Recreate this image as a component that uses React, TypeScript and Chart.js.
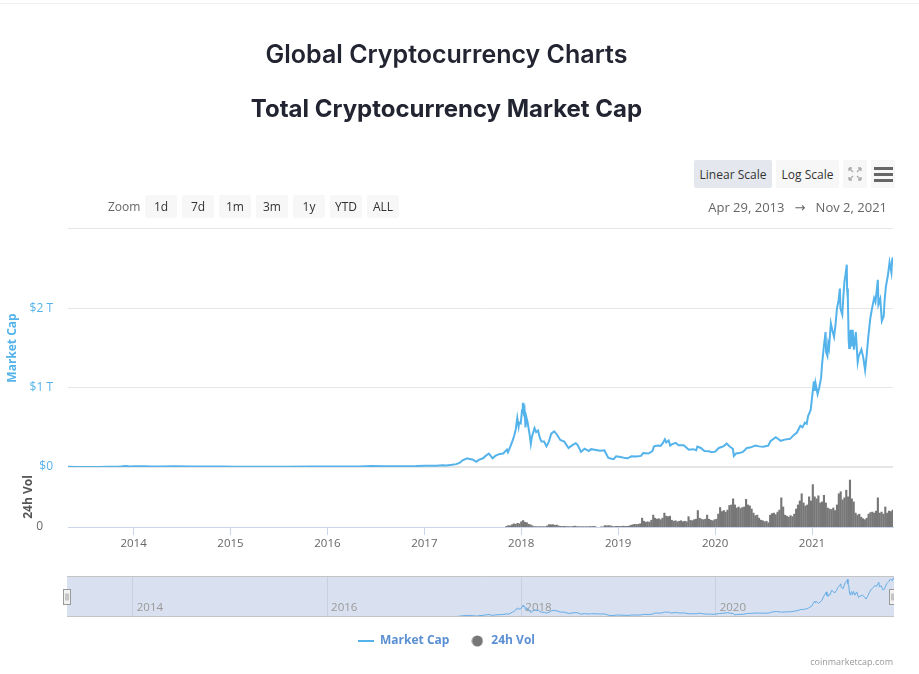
import React, { useEffect, useRef } from 'react';
import { Chart, registerables } from 'chart.js';

Chart.register(...registerables);

// ---------------- DATA ----------------
const rangeStart = '2013-04-29';
const rangeEnd = '2021-11-02';

const yearTicks = [2014, 2015, 2016, 2017, 2018, 2019, 2020, 2021];
const navYearTicks = [2014, 2016, 2018, 2020];
const capTicks = [0, 1000, 2000, 3000]; // $B
const zoomButtons = ['1d', '7d', '1m', '3m', '1y', 'YTD', 'ALL'];

// Total market cap, in $ billions
const capDates = [
  '2013-04-29', '2013-06-01', '2013-07-05', '2013-08-15', '2013-10-01', '2013-11-05', '2013-11-20', '2013-12-04', '2013-12-18',
  '2014-01-05', '2014-02-10', '2014-03-10', '2014-04-15', '2014-06-05', '2014-08-01', '2014-10-01', '2014-12-01',
  '2015-01-15', '2015-03-01', '2015-06-01', '2015-08-01', '2015-11-04',
  '2016-01-01', '2016-03-01', '2016-05-01', '2016-06-17', '2016-08-01', '2016-10-01', '2016-12-01',
  '2017-01-04', '2017-02-15', '2017-03-10', '2017-03-25', '2017-04-15', '2017-05-01', '2017-05-15', '2017-05-25',
  '2017-06-12', '2017-06-20', '2017-07-01', '2017-07-16', '2017-07-25', '2017-08-10', '2017-08-20', '2017-09-01',
  '2017-09-15', '2017-09-25', '2017-10-12', '2017-10-25', '2017-11-08', '2017-11-12', '2017-11-20', '2017-11-29',
  '2017-12-05', '2017-12-11', '2017-12-17', '2017-12-22', '2017-12-24', '2017-12-30',
  '2018-01-04', '2018-01-07', '2018-01-10', '2018-01-13', '2018-01-17', '2018-01-20', '2018-01-25', '2018-02-01',
  '2018-02-06', '2018-02-10', '2018-02-20', '2018-02-26', '2018-03-05', '2018-03-12', '2018-03-18', '2018-03-28',
  '2018-04-06', '2018-04-15', '2018-04-24', '2018-05-05', '2018-05-15', '2018-05-28', '2018-06-12', '2018-06-28',
  '2018-07-10', '2018-07-25', '2018-08-01', '2018-08-14', '2018-08-27', '2018-09-05', '2018-09-12', '2018-09-21',
  '2018-10-10', '2018-10-25', '2018-11-10', '2018-11-20', '2018-11-25', '2018-12-07', '2018-12-15', '2018-12-24',
  '2019-01-10', '2019-01-28', '2019-02-06', '2019-02-20', '2019-03-10', '2019-03-28', '2019-04-05', '2019-04-25',
  '2019-05-10', '2019-05-16', '2019-05-30', '2019-06-10', '2019-06-18', '2019-06-26', '2019-07-01', '2019-07-10',
  '2019-07-16', '2019-07-22', '2019-08-06', '2019-08-16', '2019-09-05', '2019-09-24', '2019-10-10', '2019-10-22',
  '2019-10-26', '2019-11-08', '2019-11-22', '2019-12-10', '2019-12-18',
  '2020-01-01', '2020-01-15', '2020-02-01', '2020-02-14', '2020-02-26', '2020-03-08', '2020-03-12', '2020-03-20',
  '2020-04-01', '2020-04-15', '2020-04-30', '2020-05-12', '2020-06-01', '2020-06-15', '2020-07-01', '2020-07-20',
  '2020-07-28', '2020-08-17', '2020-09-05', '2020-09-20', '2020-10-10', '2020-10-25', '2020-11-05', '2020-11-18',
  '2020-11-26', '2020-12-05', '2020-12-12', '2020-12-17', '2020-12-27',
  '2021-01-03', '2021-01-08', '2021-01-11', '2021-01-14', '2021-01-22', '2021-01-28', '2021-02-04', '2021-02-08',
  '2021-02-14', '2021-02-21', '2021-02-23', '2021-02-28', '2021-03-03', '2021-03-06', '2021-03-13', '2021-03-18',
  '2021-03-25', '2021-03-31', '2021-04-05', '2021-04-11', '2021-04-16', '2021-04-18', '2021-04-25', '2021-04-29',
  '2021-05-03', '2021-05-07', '2021-05-12', '2021-05-13', '2021-05-16', '2021-05-19', '2021-05-21', '2021-05-24',
  '2021-05-27', '2021-05-30', '2021-06-03', '2021-06-08', '2021-06-15', '2021-06-22', '2021-06-26', '2021-07-06',
  '2021-07-13', '2021-07-20', '2021-07-25', '2021-08-01', '2021-08-08', '2021-08-14', '2021-08-23', '2021-08-28',
  '2021-09-06', '2021-09-08', '2021-09-15', '2021-09-21', '2021-09-28', '2021-10-01', '2021-10-06', '2021-10-14',
  '2021-10-20', '2021-10-27', '2021-10-30', '2021-11-02',
];
const capValues = [
  1.6, 1.4, 0.9, 1.4, 1.8, 3.5, 8, 14, 7,
  10, 9, 7, 6, 8, 7.5, 5, 5,
  3, 4, 3.8, 4.5, 6.5,
  7, 7, 7.5, 12, 10.5, 10.5, 12,
  17, 17, 21, 18, 27, 36, 55, 85,
  110, 100, 95, 65, 90, 110, 140, 170,
  110, 140, 165, 170, 220, 185, 250, 330,
  390, 470, 620, 510, 560, 550,
  720, 810, 700, 740, 500, 630, 560, 420,
  290, 380, 490, 440, 460, 370, 320, 320,
  260, 320, 420, 450, 410, 340, 320, 240,
  270, 300, 280, 190, 230, 215, 200, 225,
  215, 205, 210, 145, 115, 105, 100, 135,
  125, 112, 110, 135, 132, 140, 175, 170,
  200, 260, 270, 265, 300, 350, 310, 335,
  270, 285, 305, 275, 275, 218, 225, 212,
  258, 240, 200, 198, 185,
  193, 240, 260, 295, 255, 230, 140, 170,
  175, 190, 240, 245, 270, 260, 255, 270,
  325, 375, 330, 345, 355, 405, 435, 520,
  500, 560, 545, 640, 720,
  930, 1080, 960, 1060, 920, 1000, 1120, 1300,
  1500, 1700, 1450, 1400, 1550, 1500, 1810, 1730,
  1640, 1810, 2000, 2100, 2250, 2000, 1920, 2150,
  2330, 2420, 2550, 2250, 2120, 1600, 1500, 1650,
  1730, 1520, 1730, 1480, 1700, 1320, 1400, 1480,
  1380, 1220, 1380, 1640, 1860, 1980, 2130, 2080,
  2360, 2050, 2120, 1840, 1900, 2080, 2270, 2420,
  2580, 2450, 2620, 2640,
];

// 24h volume, weekly, in $ billions, starting at volStart
const volStart = '2017-11-06';
const volStepDays = 7;
const volValues = [
  10, 17, 15, 25, 35, 30, 40, 35, 55, 67, 50, 45, 30,
  25, 15, 7, 7, 6, 7, 6, 7, 6, 15, 27, 25, 27,
  20, 23, 15, 10, 8, 10, 8, 7, 7, 6, 10, 12, 7,
  7, 6, 7, 6, 7, 6, 8, 7, 10, 6, 0, 0, 5,
  5, 17, 15, 17, 15, 10, 6, 10, 10, 8, 10, 12, 10,
  10, 12, 20, 25, 30, 27, 30, 35, 90, 60, 50, 55, 50,
  70, 120, 90, 80, 85, 75, 90, 140, 110, 105, 110, 70, 60,
  65, 55, 60, 65, 55, 60, 55, 105, 70, 65, 75, 80, 165,
  90, 80, 75, 80, 120, 80, 70, 65, 75, 80, 130, 195, 155,
  165, 150, 170, 215, 220, 280, 220, 190, 200, 185, 195, 200, 275,
  220, 210, 180, 140, 115, 120, 90, 70, 65, 55, 60, 45, 120,
  135, 140, 125, 150, 170, 290, 200, 120, 110, 100, 115, 105, 130,
  180, 220, 260, 330, 240, 210, 220, 300, 260, 420, 300, 280, 310,
  240, 250, 315, 240, 190, 180, 175, 190, 165, 220, 330, 350, 270,
  290, 365, 300, 465, 280, 250, 140, 120, 130, 100, 85, 75, 90,
  130, 145, 150, 140, 160, 290, 140, 150, 130, 200, 140, 160, 155, 170,
];

// ---------------- HELPERS ----------------
const DAY_MS = 86400000;
function msToYear(t: number): number {
  const y = new Date(t).getUTCFullYear();
  const s = Date.UTC(y, 0, 1);
  const e = Date.UTC(y + 1, 0, 1);
  return y + (t - s) / (e - s);
}
function dateToYear(d: string): number {
  return msToYear(Date.parse(d + 'T00:00:00Z'));
}

const FONT = "'Open Sans', 'DejaVu Sans', sans-serif";
const TITLE_FONT = "Inter, 'Open Sans', sans-serif";
const CAP_COLOR = '#54b3ea';
const VOL_COLOR = '#777777';
const LEGEND_COLOR = '#5b8fd3';

const btn: React.CSSProperties = {
  position: 'absolute',
  height: 28,
  top: 160,
  background: '#f7f7f7',
  borderRadius: 2,
  fontSize: 12,
  color: '#333',
  display: 'flex',
  alignItems: 'center',
  justifyContent: 'center',
  boxSizing: 'border-box',
};

export default function App() {
  const mainRef = useRef<HTMLCanvasElement>(null);
  const navRef = useRef<HTMLCanvasElement>(null);

  useEffect(() => {
    const capPoints = capDates.map((d, i) => ({ x: dateToYear(d), y: capValues[i] }));
    const volStartMs = Date.parse(volStart + 'T00:00:00Z');
    const volPoints = volValues.map((v, k) => ({
      x: msToYear(volStartMs + k * volStepDays * DAY_MS),
      y: v,
    }));
    const xMin = dateToYear(rangeStart);
    const xMax = dateToYear(rangeEnd);

    // legend symbols
    const lineIcon = document.createElement('canvas');
    lineIcon.width = 16;
    lineIcon.height = 2;
    const lctx = lineIcon.getContext('2d')!;
    lctx.fillStyle = CAP_COLOR;
    lctx.fillRect(0, 0, 16, 2);
    const dotIcon = document.createElement('canvas');
    dotIcon.width = 12;
    dotIcon.height = 12;
    const dctx = dotIcon.getContext('2d')!;
    dctx.fillStyle = VOL_COLOR;
    dctx.beginPath();
    dctx.arc(6, 6, 5.5, 0, Math.PI * 2);
    dctx.fill();

    const main = new Chart(mainRef.current!, {
      type: 'line',
      data: {
        datasets: [
          {
            type: 'line',
            label: 'Market Cap',
            data: capPoints,
            yAxisID: 'yCap',
            xAxisID: 'x',
            borderColor: CAP_COLOR,
            borderWidth: 2,
            pointRadius: 0,
            tension: 0,
            order: 0,
          } as any,
          {
            type: 'bar',
            label: '24h Vol',
            data: volPoints,
            yAxisID: 'yVol',
            xAxisID: 'x',
            backgroundColor: VOL_COLOR,
            borderWidth: 0,
            barPercentage: 1.15,
            categoryPercentage: 1,
            grouped: false,
            order: 1,
          } as any,
        ],
      },
      options: {
        animation: false,
        responsive: false,
        maintainAspectRatio: false,
        layout: { padding: { left: 0, right: 1, top: 0, bottom: 17 } },
        plugins: {
          title: {
            display: true,
            text: 'Global Cryptocurrency Charts',
            color: '#222531',
            font: { family: TITLE_FONT, size: 25, weight: '600' as any },
            padding: { top: 40.4, bottom: 0 },
          },
          subtitle: {
            display: true,
            text: 'Total Cryptocurrency Market Cap',
            color: '#222531',
            font: { family: TITLE_FONT, size: 24, weight: 'bold' },
            padding: { top: 25.2, bottom: 104.6 },
          },
          legend: {
            display: true,
            position: 'bottom',
            labels: {
              usePointStyle: true,
              pointStyleWidth: 16,
              padding: 20,
              font: { family: FONT, size: 12, weight: 'bold' },
              color: LEGEND_COLOR,
              generateLabels: () => [
                {
                  text: 'Market Cap',
                  pointStyle: lineIcon as any,
                  fontColor: LEGEND_COLOR,
                  fillStyle: 'transparent',
                  strokeStyle: 'transparent',
                  lineWidth: 0,
                  hidden: false,
                  datasetIndex: 0,
                },
                {
                  text: '24h Vol',
                  pointStyle: dotIcon as any,
                  fontColor: LEGEND_COLOR,
                  fillStyle: 'transparent',
                  strokeStyle: 'transparent',
                  lineWidth: 0,
                  hidden: false,
                  datasetIndex: 1,
                },
              ],
            },
          },
          tooltip: { enabled: false },
        },
        scales: {
          x: {
            type: 'linear',
            position: 'bottom',
            min: xMin,
            max: xMax,
            offset: false,
            afterBuildTicks: (s: any) => {
              s.ticks = yearTicks.map((v) => ({ value: v }));
            },
            afterFit: (s: any) => {
              s.height = 88;
            },
            ticks: {
              autoSkip: false,
              maxRotation: 0,
              color: '#666',
              padding: 2,
              font: { family: FONT, size: 11.5 },
              callback: (v: any) => String(v),
            },
            grid: {
              offset: false,
              drawOnChartArea: false,
              drawTicks: true,
              tickLength: 8,
              color: '#ccd6eb',
            },
            border: { display: true, color: '#ccd6eb' },
          },
          yCap: {
            type: 'linear',
            position: 'left',
            stack: 'panes',
            stackWeight: 238,
            weight: 1,
            min: 0,
            max: 3000,
            afterBuildTicks: (s: any) => {
              s.ticks = capTicks.map((v) => ({ value: v }));
            },
            afterFit: (s: any) => {
              s.width = 68;
            },
            ticks: {
              color: CAP_COLOR,
              padding: 15,
              font: { family: FONT, size: 12 },
              callback: (v: any) => (v === 0 ? '$0' : v >= 3000 ? '' : '$' + v / 1000 + ' T'),
            },
            grid: {
              color: '#e6e6e6',
              drawTicks: false,
              lineWidth: (ctx: any) => (ctx.tick && ctx.tick.value === 0 ? 2 : 1),
            },
            border: { display: false },
            title: {
              display: true,
              text: 'Market Cap',
              color: CAP_COLOR,
              font: { family: FONT, size: 12, weight: 'bold' },
              padding: { top: 5, bottom: 0 },
            },
          } as any,
          yVol: {
            type: 'linear',
            position: 'left',
            stack: 'panes',
            stackWeight: 60,
            weight: 0,
            min: 0,
            max: 590,
            afterBuildTicks: (s: any) => {
              s.ticks = [{ value: 0 }];
            },
            afterFit: (s: any) => {
              s.width = 68;
            },
            ticks: {
              color: '#666',
              padding: 17,
              font: { family: FONT, size: 12 },
              callback: (v: any) => String(v),
            },
            grid: { display: false },
            border: { display: false },
            title: {
              display: true,
              text: '24h Vol',
              color: '#555',
              font: { family: FONT, size: 12, weight: 'bold' },
              padding: { top: 21, bottom: 0 },
            },
          } as any,
        },
      } as any,
    });

    const navPlugin = {
      id: 'navDecor',
      beforeDraw(chart: any) {
        const { ctx, chartArea: a } = chart;
        ctx.save();
        ctx.fillStyle = '#d9e0ef';
        ctx.fillRect(a.left, a.top, a.right - a.left, a.bottom - a.top);
        ctx.restore();
      },
      afterDraw(chart: any) {
        const { ctx, chartArea: a } = chart;
        ctx.save();
        ctx.strokeStyle = '#c4c4c4';
        ctx.lineWidth = 1;
        ctx.beginPath();
        ctx.moveTo(a.left, a.top + 0.5);
        ctx.lineTo(a.right, a.top + 0.5);
        ctx.moveTo(a.left, a.bottom - 0.5);
        ctx.lineTo(a.right, a.bottom - 0.5);
        ctx.stroke();
        const cy = (a.top + a.bottom) / 2;
        [a.left, a.right - 1].forEach((hx: number) => {
          const x0 = Math.round(hx - 4) + 0.5;
          const y0 = Math.round(cy - 8) + 0.5;
          ctx.fillStyle = '#f2f2f2';
          ctx.strokeStyle = '#999';
          ctx.fillRect(x0, y0, 7, 15);
          ctx.strokeRect(x0, y0, 7, 15);
          ctx.beginPath();
          ctx.moveTo(x0 + 2.5, y0 + 4);
          ctx.lineTo(x0 + 2.5, y0 + 11);
          ctx.moveTo(x0 + 4.5, y0 + 4);
          ctx.lineTo(x0 + 4.5, y0 + 11);
          ctx.stroke();
        });
        ctx.restore();
      },
    };

    const nav = new Chart(navRef.current!, {
      type: 'line',
      data: {
        datasets: [
          {
            label: 'Market Cap',
            data: capPoints,
            borderColor: '#66aee8',
            borderWidth: 1,
            pointRadius: 0,
            tension: 0,
          },
        ],
      },
      options: {
        animation: false,
        responsive: false,
        maintainAspectRatio: false,
        layout: { padding: { left: 67, right: 0, top: 6, bottom: 3 } },
        plugins: { legend: { display: false }, tooltip: { enabled: false } },
        scales: {
          x: {
            type: 'linear',
            position: { y: 0 },
            min: xMin,
            max: xMax,
            afterBuildTicks: (s: any) => {
              s.ticks = navYearTicks.map((v) => ({ value: v }));
            },
            ticks: {
              autoSkip: false,
              maxRotation: 0,
              align: 'start',
              labelOffset: 4,
              padding: -16,
              color: '#999',
              font: { family: FONT, size: 11.5 },
              callback: (v: any) => String(v),
            },
            grid: { drawTicks: false, color: '#c9d0e0' },
            border: { display: false },
          },
          y: { display: false, min: 0, max: 2780 },
        },
      } as any,
      plugins: [navPlugin],
    });

    return () => {
      main.destroy();
      nav.destroy();
    };
  }, []);

  return (
    <div
      style={{
        position: 'absolute',
        left: 0,
        top: 0,
        width: 919,
        height: 674,
        overflow: 'hidden',
        background: '#fff',
        fontFamily: FONT,
      }}
    >
      <div style={{ position: 'absolute', left: 0, top: 3, width: 919, height: 1, background: '#eceff3' }} />
      <canvas
        ref={mainRef}
        width={894}
        height={674}
        style={{ position: 'absolute', left: 0, top: 0, width: 894, height: 674 }}
      />
      <canvas
        ref={navRef}
        width={894}
        height={50}
        style={{ position: 'absolute', left: 0, top: 570, width: 894, height: 50 }}
      />

      {/* scale buttons */}
      <div style={{ ...btn, left: 694, width: 78, background: '#e4e7ed' }}>Linear Scale</div>
      <div style={{ ...btn, left: 776, width: 63 }}>Log Scale</div>
      <div style={{ ...btn, left: 843, width: 24 }}>
        <svg width="14" height="14" viewBox="0 0 14 14">
          <g stroke="#aaa" strokeWidth="1.3" fill="none">
            <path d="M1 1 L5 5 M1 1 L1 4 M1 1 L4 1" />
            <path d="M13 1 L9 5 M13 1 L13 4 M13 1 L10 1" />
            <path d="M1 13 L5 9 M1 13 L1 10 M1 13 L4 13" />
            <path d="M13 13 L9 9 M13 13 L13 10 M13 13 L10 13" />
          </g>
        </svg>
      </div>
      <div style={{ ...btn, left: 871, width: 24, flexDirection: 'column', gap: 3 }}>
        <div style={{ width: 19, height: 3, background: '#666' }} />
        <div style={{ width: 19, height: 3, background: '#666' }} />
        <div style={{ width: 19, height: 3, background: '#666' }} />
      </div>

      {/* zoom row */}
      <div
        style={{
          position: 'absolute',
          left: 108,
          top: 195,
          height: 23,
          display: 'flex',
          alignItems: 'center',
          fontSize: 12,
          color: '#666',
        }}
      >
        Zoom
      </div>
      <div style={{ position: 'absolute', left: 145, top: 195, display: 'flex', gap: 5 }}>
        {zoomButtons.map((b) => (
          <div
            key={b}
            style={{
              width: 32,
              height: 23,
              background: '#f7f7f7',
              borderRadius: 2,
              fontSize: 12,
              color: '#333',
              display: 'flex',
              alignItems: 'center',
              justifyContent: 'center',
            }}
          >
            {b}
          </div>
        ))}
      </div>
      <div
        style={{
          position: 'absolute',
          left: 587,
          width: 300,
          top: 197,
          height: 20,
          lineHeight: '20px',
          textAlign: 'right',
          fontSize: 13,
          color: '#666',
          whiteSpace: 'pre',
        }}
      >
        {'Apr 29, 2013   \u2192   Nov 2, 2021'}
      </div>

      <div
        style={{
          position: 'absolute',
          left: 0,
          width: 893,
          top: 655,
          textAlign: 'right',
          fontSize: 9,
          color: '#999',
        }}
      >
        coinmarketcap.com
      </div>
    </div>
  );
}
